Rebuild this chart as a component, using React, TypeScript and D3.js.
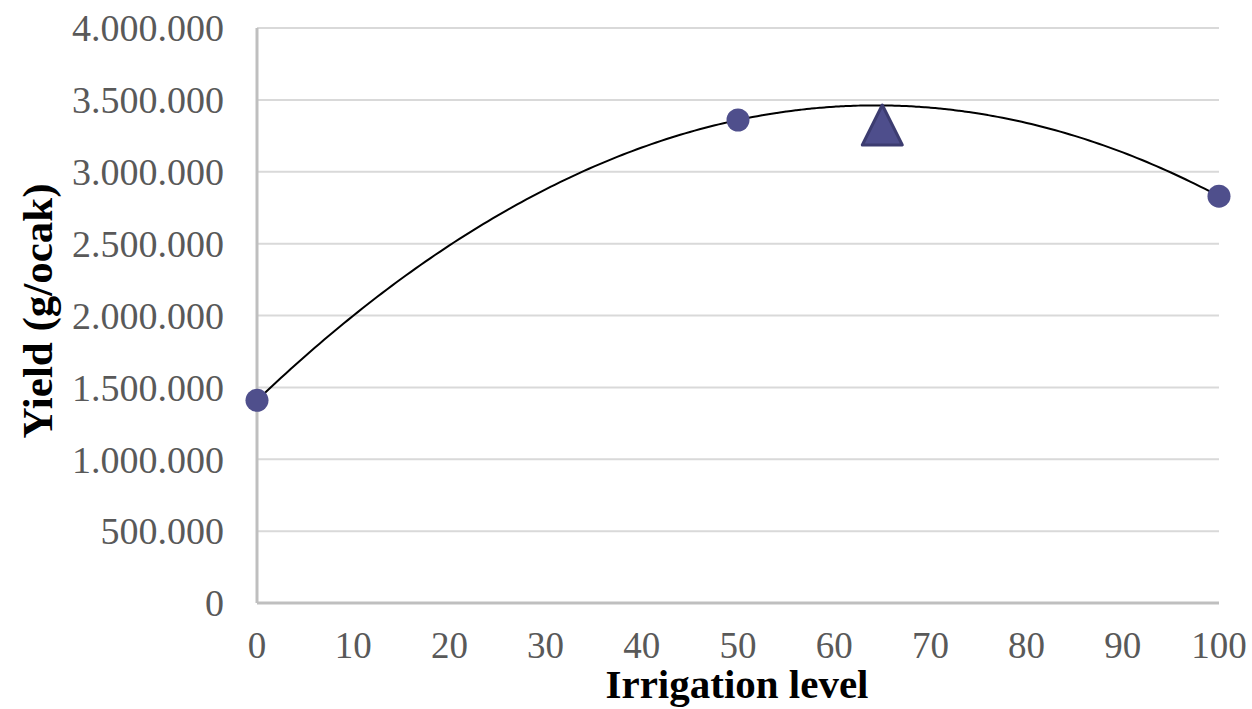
import React from "react";
import * as d3 from "d3";

const irrigationLevels = [0, 50, 100];
const yieldValues = [1410000, 3360000, 2830000];
const optimumLevel = [65];
const optimumYield = [3325000];
const xTicks = [0, 10, 20, 30, 40, 50, 60, 70, 80, 90, 100];
const yTicks = [0, 500000, 1000000, 1500000, 2000000, 2500000, 3000000, 3500000, 4000000];

const W = 1252;
const H = 709;
const margin = { left: 257, right: 33, top: 28, bottom: 106 };

function quadFit(xs: number[], ys: number[]) {
  // least squares quadratic fit (trendline, as in spreadsheet)
  const n = xs.length;
  let s0 = n, s1 = 0, s2 = 0, s3 = 0, s4 = 0, t0 = 0, t1 = 0, t2 = 0;
  for (let i = 0; i < n; i++) {
    const x = xs[i], y = ys[i];
    s1 += x; s2 += x * x; s3 += x ** 3; s4 += x ** 4;
    t0 += y; t1 += x * y; t2 += x * x * y;
  }
  const M = [
    [s0, s1, s2, t0],
    [s1, s2, s3, t1],
    [s2, s3, s4, t2],
  ];
  for (let i = 0; i < 3; i++) {
    const p = M[i][i];
    for (let j = i; j < 4; j++) M[i][j] /= p;
    for (let k = 0; k < 3; k++) {
      if (k === i) continue;
      const f = M[k][i];
      for (let j = i; j < 4; j++) M[k][j] -= f * M[i][j];
    }
  }
  const c = M[0][3], b = M[1][3], a = M[2][3];
  return (x: number) => c + b * x + a * x * x;
}

const fmt = (v: number) => d3.format(",")(v).replace(/,/g, ".");

function trianglePath(h: number) {
  const p = d3.path();
  p.moveTo(0, -h / 2);
  p.lineTo(h / 2, h / 2);
  p.lineTo(-h / 2, h / 2);
  p.closePath();
  return p.toString();
}

export default function App() {
  const x = d3.scaleLinear().domain([0, 100]).range([margin.left, W - margin.right]);
  const y = d3.scaleLinear().domain([0, 4000000]).range([H - margin.bottom, margin.top]);
  const fit = quadFit(irrigationLevels, yieldValues);
  const curvePts = d3.range(0, 100.5, 0.5).map((v) => [v, fit(v)] as [number, number]);
  const line = d3
    .line<[number, number]>()
    .x((d) => x(d[0]))
    .y((d) => y(d[1]))
    .curve(d3.curveMonotoneX);
  const tri = trianglePath(40);
  const font = "'Liberation Serif', 'Times New Roman', serif";

  return (
    <svg width={W} height={H} style={{ position: "absolute", left: 0, top: 0, background: "#fff" }}>
      {yTicks.map((t) => (
        <line key={"g" + t} x1={x(0)} x2={x(100)} y1={y(t)} y2={y(t)} stroke={t === 0 ? "#bfbfbf" : "#d9d9d9"} strokeWidth={t === 0 ? 3 : 2} />
      ))}
      <line x1={x(0)} x2={x(0)} y1={y(4000000)} y2={y(0)} stroke="#bfbfbf" strokeWidth={3} />
      {yTicks.map((t) => (
        <text key={"yl" + t} x={224} y={y(t)} dy="0.35em" textAnchor="end" fontFamily={font} fontSize={38} fill="#595959">
          {fmt(t)}
        </text>
      ))}
      {xTicks.map((t) => (
        <text key={"xl" + t} x={x(t)} y={658} textAnchor="middle" fontFamily={font} fontSize={37} fill="#595959">
          {t}
        </text>
      ))}
      <path d={line(curvePts) || ""} fill="none" stroke="#000" strokeWidth={2} />
      {irrigationLevels.map((lv, i) => (
        <circle key={"c" + lv} cx={x(lv)} cy={y(yieldValues[i])} r={11.5} fill="#4f4f8c" />
      ))}
      {optimumLevel.map((lv, i) => (
        <path
          key={"t" + lv}
          d={tri}
          transform={`translate(${x(lv)},${y(optimumYield[i])})`}
          fill="#4e4e8c"
          stroke="#3c3c70"
          strokeWidth={3}
          strokeLinejoin="round"
        />
      ))}
      <text x={737} y={698} textAnchor="middle" fontFamily={font} fontSize={41} fontWeight="bold" fill="#000">
        Irrigation level
      </text>
      <text
        transform={`translate(52,${311}) rotate(-90)`}
        textAnchor="middle"
        fontFamily={font}
        fontSize={43}
        fontWeight="bold"
        fill="#000"
      >
        Yield (g/ocak)
      </text>
    </svg>
  );
}
